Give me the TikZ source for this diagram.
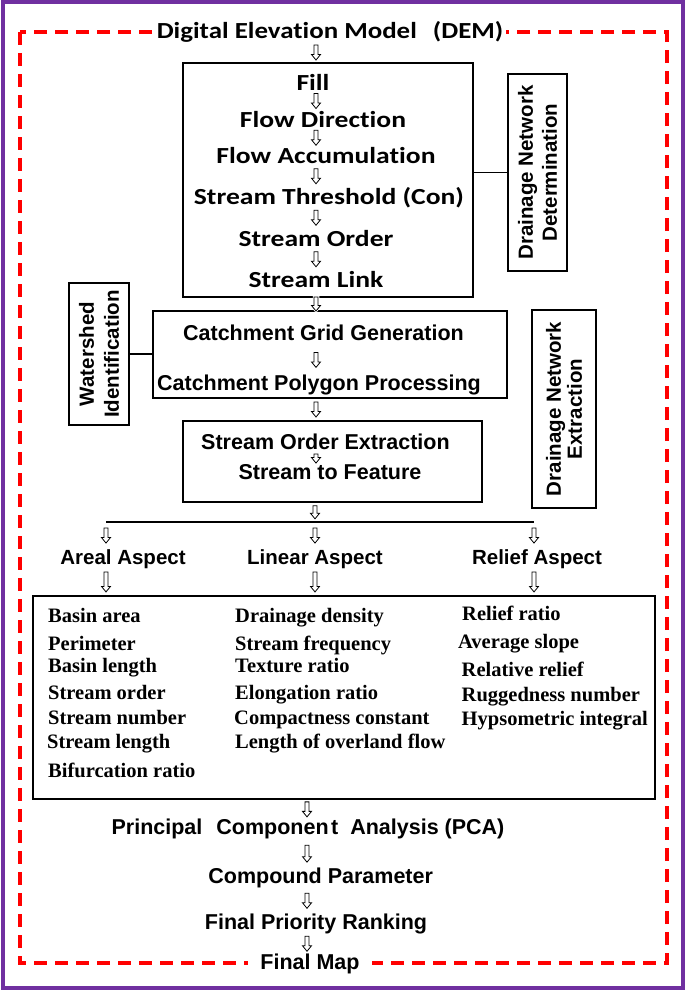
\documentclass[tikz,border=0pt]{standalone}
\usepackage{fontspec}
\setmainfont{Liberation Serif}
\newfontfamily\arialf{Liberation Sans}
\newfontfamily\calT{Carlito}[FakeStretch=1.17, Ligatures=CommonOff]
\newfontfamily\calB{Carlito}[FakeStretch=1.2, Ligatures=CommonOff]
\usetikzlibrary{calc}
\definecolor{framepurple}{HTML}{7030A0}
\begin{document}
\begin{tikzpicture}[x=1pt,y=-1pt,
  box/.style={draw, line width=1.3pt, inner sep=0pt},
  conn/.style={line width=1.3pt},
  calline/.style={font=\calB\bfseries\fontsize{23}{27}\selectfont, text height=15pt, text depth=0pt, inner sep=0pt, anchor=base},
  arline/.style={font=\arialf\bfseries\fontsize{21.5}{25}\selectfont, text height=15.4pt, text depth=4.5pt, inner sep=0pt, anchor=base},
  aspect/.style={font=\arialf\bfseries\fontsize{20.5}{24}\selectfont, text height=14.7pt, text depth=4.3pt, inner sep=0pt, anchor=base},
  item/.style={font=\bfseries\fontsize{20.5}{24}\selectfont, inner sep=0pt, anchor=base west},
  sidebox/.style={draw, line width=1.3pt, rotate=90, align=center, inner sep=0pt,
     font=\arialf\bfseries\fontsize{20.5}{#1}\selectfont},
  darr/.style={fill=white, line width=0.8pt, line join=miter,
     preaction={draw=white, line width=2.5pt},
     to path={let \p1=($(\tikztostart)!0.5!(\tikztotarget)$) in
       (\x1-2pt,\y1+#1/2) -- (\x1+2pt,\y1+#1/2) -- (\x1+2pt,\y1-#1/2+5.5pt)
       -- (\x1+4.5pt,\y1-#1/2+5.5pt) -- (\x1,\y1-#1/2) -- (\x1-4.5pt,\y1-#1/2+5.5pt)
       -- (\x1-2pt,\y1-#1/2+5.5pt) -- cycle}},
  darr/.default=15pt
]
\useasboundingbox (0,0) rectangle (685,990);
% frames
\draw[framepurple, line width=4pt] (2.5,2.5) rectangle (682.5,987.5);
\draw[red, line width=4pt, dash pattern=on 13pt off 8pt] (20,32) rectangle (667,963);

% axes
\coordinate (ax) at (316,0);
\coordinate (axl) at (307,0);

% title
\node[font=\calT\bfseries\fontsize{23}{27}\selectfont, fill=white, inner xsep=2.5pt, inner ysep=0pt,
      text height=15pt, text depth=4pt, anchor=base] (dem) at (330,38.5)
      {Digital Elevation Model\hspace{10pt} (DEM)};

% box 1
\node[box, minimum width=290pt, minimum height=234pt] (b1) at (328,180) {};
\node[calline] (fill) at (313,90) {Fill};
\node[calline] (fd) at (323,127) {Flow Direction};
\node[calline] (fa) at (326,163.5) {Flow Accumulation};
\node[calline] (st) at (329,204) {Stream Threshold (Con)};
\node[calline] (so) at (316,246.5) {Stream Order};
\node[calline] (sl) at (316,287) {Stream Link};

% side box determination
\node[sidebox=24pt, minimum width=197pt, minimum height=59pt] (dnd) at (537.5,172.5)
  {Drainage Network\\Determination};
\draw[conn] (dnd.north) -- (dnd.north -| b1.east);

% box 2
\node[box, minimum width=354pt, minimum height=87pt] (b2) at (330,354.5) {};
\node[arline] (cg) at (323.5,340.7) {Catchment Grid Generation};
\node[arline] (cpp) at (319,390) {Catchment Polygon Processing};

\node[sidebox=25pt, minimum width=142pt, minimum height=60pt] (ws) at (99,354)
  {Watershed\\Identification};
\draw[conn] (ws.south) -- (ws.south -| b2.west);

% box 3
\node[box, minimum width=299pt, minimum height=81pt] (b3) at (332.5,461.5) {};
\node[arline] (soe) at (325.5,449) {Stream Order Extraction};
\node[arline] (stf) at (330,479) {Stream to Feature};

\node[sidebox=21pt, minimum width=198pt, minimum height=64pt] (dne) at (564,409)
  {Drainage Network\\Extraction};
\draw[conn] ($(b3.east)+(0,-5.5)$) -- ($(b3.east)+(0,-5.5)$ -| dne.north);

% branch
\coordinate (bl) at (106,522);
\coordinate (bc) at (315,522);
\coordinate (br) at (534,522);
\draw[conn] (bl) -- (br);

\node[aspect] (areal) at (123,564) {Areal Aspect};
\node[aspect] (linear) at (315,564) {Linear Aspect};
\node[aspect] (relief) at (537,564) {Relief Aspect};

% big box
\node[box, minimum width=622pt, minimum height=203pt] (big) at (344,697.5) {};
\node[item] (i1) at (48,622.3) {Basin area};
\node[item] (i2) at (48,650) {Perimeter};
\node[item] (i3) at (48,672.6) {Basin length};
\node[item] (i4) at (48,699) {Stream order};
\node[item] (i5) at (48,724.3) {Stream number};
\node[item] (i6) at (47,748.6) {Stream length};
\node[item] (i7) at (48,777.6) {Bifurcation ratio};

\node[item] (m1) at (235,622.3) {Drainage density};
\node[item] (m2) at (235,650) {Stream frequency};
\node[item] (m3) at (235,672.6) {Texture ratio};
\node[item] (m4) at (235,699) {Elongation ratio};
\node[item] (m5) at (234,724.3) {Compactness constant};
\node[item] (m6) at (235,748.3) {Length of overland flow};

\node[item] (r1) at (462,620.8) {Relief ratio};
\node[item] (r2) at (458,648.3) {Average slope};
\node[item] (r3) at (461.5,676.6) {Relative relief};
\node[item] (r4) at (461.5,701.6) {Ruggedness number};
\node[item] (r5) at (461.5,725) {Hypsometric integral};

% bottom chain
\node[arline] (pca) at (308,834.7) {Principal\hspace{8pt} Componen\kern2.5pt t\hspace{6pt} Analysis (PCA)};
\node[arline] (cp) at (320.7,883.5) {Compound Parameter};
\node[arline] (fpr) at (316,929) {Final Priority Ranking};
\node[arline, fill=white, inner xsep=12pt] (fm) at (310,969.4) {Final Map};

% arrows
\draw[darr] (dem.south -| ax) to (b1.north -| ax);
\draw[darr] (fill.south -| ax) to (fd.north -| ax);
\draw[darr] (fd.south -| ax) to (fa.north -| ax);
\draw[darr] (fa.south -| ax) to (st.north -| ax);
\draw[darr] (st.south -| ax) to (so.north -| ax);
\draw[darr] (so.south -| ax) to (sl.north -| ax);
\draw[darr=14pt] (b1.south -| ax) to (b2.north -| ax);
\draw[darr] (cg.south -| ax) to (cpp.north -| ax);
\draw[darr] (b2.south -| ax) to (b3.north -| ax);
\draw[darr=9pt] (soe.south -| ax) to (stf.north -| ax);
\draw[darr=13pt] (b3.south -| bc) to (bc);
\draw[darr] (bl) to (areal.north -| bl);
\draw[darr] (bc) to (linear.north -| bc);
\draw[darr] (br) to (relief.north -| br);
\draw[darr=20pt] (areal.south -| bl) to (big.north -| bl);
\draw[darr=20pt] (linear.south -| bc) to (big.north -| bc);
\draw[darr=20pt] (relief.south -| br) to (big.north -| br);
\draw[darr] (big.south -| axl) to (pca.north -| axl);
\draw[darr=17pt] (pca.south -| axl) to (cp.north -| axl);
\draw[darr] (cp.south -| axl) to (fpr.north -| axl);
\draw[darr] (fpr.south -| axl) to (fm.north -| axl);
\end{tikzpicture}
\end{document}
